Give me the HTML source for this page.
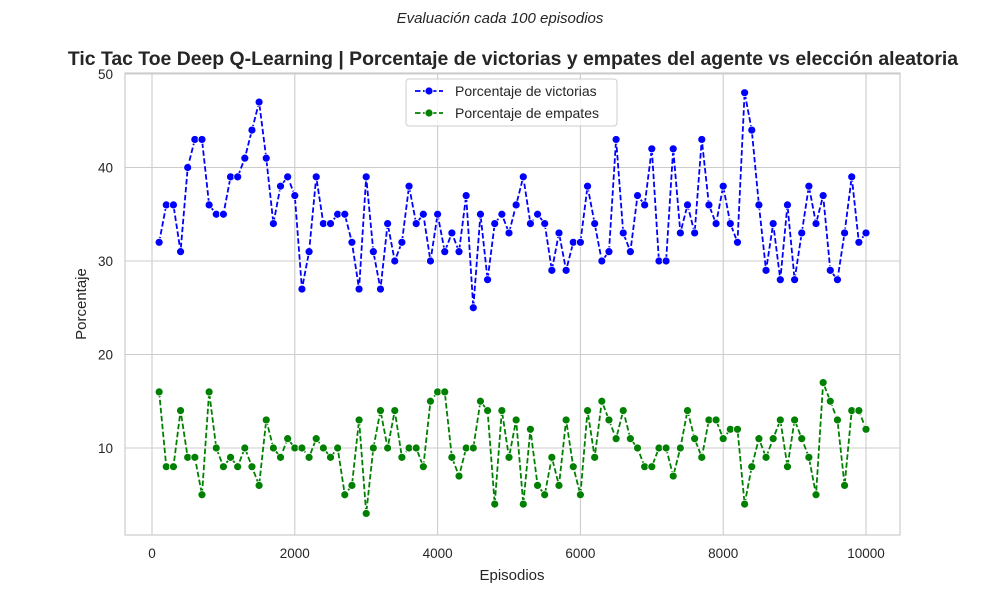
<!DOCTYPE html>
<html><head><meta charset="utf-8"><style>
body{margin:0;background:#fff;font-family:"Liberation Sans","DejaVu Sans",sans-serif}
svg text{font-family:"Liberation Sans","DejaVu Sans",sans-serif;fill:#262626}
</style></head><body>
<svg id="chart" width="1000" height="600">
<text x="500" y="23" text-anchor="middle" font-size="15" font-style="italic">Evaluación cada 100 episodios</text>
<text x="513" y="65" text-anchor="middle" font-size="19.4" font-weight="bold">Tic Tac Toe Deep Q-Learning | Porcentaje de victorias y empates del agente vs elección aleatoria</text>
<g id="grid"></g>
<rect x="125" y="73" width="775" height="462" fill="none" stroke="#cccccc" stroke-width="1.2"/>
<g id="marks"></g>
<text x="512" y="580" text-anchor="middle" font-size="15">Episodios</text>
<text transform="translate(86,304) rotate(-90)" text-anchor="middle" font-size="15">Porcentaje</text>
<g>
<rect x="406" y="79" width="211" height="47" rx="3" fill="#fff" fill-opacity="0.8" stroke="#cccccc"/>
<g>
<line x1="415" y1="91" x2="443" y2="91" stroke="#0000ff" stroke-width="1.7" stroke-dasharray="5.5,2.5"/>
<circle cx="429" cy="91" r="4" fill="#0000ff" stroke="#fff" stroke-width="0.8"/>
<text x="455" y="96" font-size="14">Porcentaje de victorias</text></g>
<g>
<line x1="415" y1="113" x2="443" y2="113" stroke="#008000" stroke-width="1.7" stroke-dasharray="5.5,2.5"/>
<circle cx="429" cy="113" r="4" fill="#008000" stroke="#fff" stroke-width="0.8"/>
<text x="455" y="118" font-size="14">Porcentaje de empates</text></g>
</g>
</svg>
<script>
const episodes = Array.from({length:100},(_, i)=>(i+1)*100);
const victorias = [32,36,36,31,40,43,43,36,35,35,39,39,41,44,47,41,34,38,39,37,27,31,39,34,34,35,35,32,27,39,31,27,34,30,32,38,34,35,30,35,31,33,31,37,25,35,28,34,35,33,36,39,34,35,34,29,33,29,32,32,38,34,30,31,43,33,31,37,36,42,30,30,42,33,36,33,43,36,34,38,34,32,48,44,36,29,34,28,36,28,33,38,34,37,29,28,33,39,32,33];
const empates = [16,8,8,14,9,9,5,16,10,8,9,8,10,8,6,13,10,9,11,10,10,9,11,10,9,10,5,6,13,3,10,14,10,14,9,10,10,8,15,16,16,9,7,10,10,15,14,4,14,9,13,4,12,6,5,9,6,13,8,5,14,9,15,13,11,14,11,10,8,8,10,10,7,10,14,11,9,13,13,11,12,12,4,8,11,9,11,13,8,13,11,9,5,17,15,13,6,14,14,12];
const xTicks = [0,2000,4000,6000,8000,10000];
const yTicks = [10,20,30,40,50];
const NS="http://www.w3.org/2000/svg";
const X=v=>152+v*(866-152)/10000;
const Y=v=>541.5-v*(541.5-74)/50;
const grid=document.getElementById('grid'), marks=document.getElementById('marks');
function mk(tag,attrs,parent){const e=document.createElementNS(NS,tag);for(const k in attrs)e.setAttribute(k,attrs[k]);parent.appendChild(e);return e;}
xTicks.forEach(t=>{
  const l=mk('line',{x1:X(t),x2:X(t),y1:73,y2:535,stroke:'#cccccc','stroke-width':1.1},grid);
  
  
  const tx=mk('text',{x:X(t),y:558,'text-anchor':'middle','font-size':'13.5'},grid);tx.textContent=t;
  
  
});
yTicks.forEach(t=>{
  const l=mk('line',{x1:125,x2:900,y1:Y(t),y2:Y(t),stroke:'#cccccc','stroke-width':1.1},grid);
  
  
  const tx=mk('text',{x:113,y:Y(t)+5,'text-anchor':'end','font-size':'13.5'},grid);tx.textContent=t;
  
  
});
function series(vals,color,name){
  const g=mk('g',{},marks);
  
  
  const p=mk('polyline',{points:vals.map((v,i)=>X(episodes[i])+','+Y(v)).join(' '),fill:'none',stroke:color,'stroke-width':1.8,'stroke-dasharray':'5.5,2.5'},g);
  
  
  vals.forEach((v,i)=>{
    const c=mk('circle',{cx:X(episodes[i]),cy:Y(v),r:4,fill:color,stroke:'#fff','stroke-width':0.8},g);
    
    
  });
}
series(victorias,'#0000ff','victorias');
series(empates,'#008000','empates');
</script>
</body></html>
